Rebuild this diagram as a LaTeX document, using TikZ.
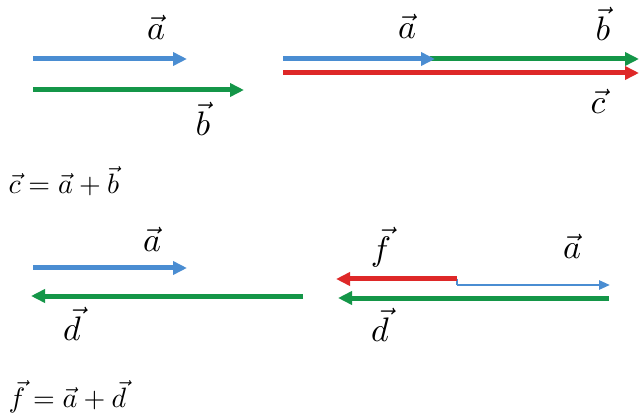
\documentclass[tikz,border=0pt]{standalone}
\usetikzlibrary{arrows.meta}
\definecolor{vblue}{RGB}{74,141,210}
\definecolor{vgreen}{RGB}{20,150,72}
\definecolor{vred}{RGB}{222,40,40}
\tikzset{
  vec/.style={line width=5pt,-{Triangle[length=14pt,width=13pt]}},
  thinvec/.style={line width=2.5pt,-{Triangle[length=11pt,width=9pt]}},
  lbl/.style={inner sep=0pt,scale=3.4},
  formula/.style={inner sep=0pt,anchor=west,scale=2.8}
}
\begin{document}
\begin{tikzpicture}[x=1pt,y=-1pt]
\useasboundingbox[fill=white] (0,0) rectangle (639,419);
% top left
\coordinate (a1s) at (33,59); \coordinate (a1e) at (187,59);
\coordinate (b1s) at (33,90); \coordinate (b1e) at (244,90);
\draw[vec,vblue] (a1s) -- (a1e);
\draw[vec,vgreen] (b1s) -- (b1e);
\node[lbl] (la1) at (156,27) {$\vec{a}$};
\node[lbl] (lb1) at (203,119) {$\vec{b}$};
% top right
\coordinate (a2s) at (283,59); \coordinate (a2e) at (435,59);
\coordinate (b2s) at (430,59); \coordinate (b2e) at (639,59);
\coordinate (c2s) at (283,73); \coordinate (c2e) at (639,73);
\draw[vec,vred] (c2s) -- (c2e);
\draw[vec,vgreen] (b2s) -- (b2e);
\draw[vec,vblue] (a2s) -- (a2e);
\node[lbl] (la2) at (407,26) {$\vec{a}$};
\node[lbl] (lb2) at (603,24) {$\vec{b}$};
\node[lbl] (lc2) at (598,101) {$\vec{c}$};
% formula 1
\node[formula] (f1) at (8,181) {$\vec{c}=\vec{a}+\vec{b}$};
% lower left
\coordinate (a3s) at (33,268); \coordinate (a3e) at (187,268);
\coordinate (d3s) at (303,296); \coordinate (d3e) at (31,296);
\draw[vec,vblue] (a3s) -- (a3e);
\draw[vec,vgreen] (d3s) -- (d3e);
\node[lbl] (la3) at (152,239) {$\vec{a}$};
\node[lbl] (ld3) at (72,324) {$\vec{d}$};
% lower right
\coordinate (ks) at (457,279); \coordinate (kb) at (457,285);
\coordinate (f4e) at (336,279);
\coordinate (a4e) at (610,285);
\coordinate (d4s) at (609,298); \coordinate (d4e) at (338,298);
\draw[vec,vgreen] (d4s) -- (d4e);
\draw[thinvec,vblue] (kb) -- (a4e);
\draw[line width=1.5pt,vblue] (ks) -- (kb);
\draw[vec,vred] (ks) -- (f4e);
\node[lbl] (lf4) at (381,247) {$\vec{f}$};
\node[lbl] (la4) at (572,246) {$\vec{a}$};
\node[lbl] (ld4) at (380,325) {$\vec{d}$};
% formula 2
\node[formula] (f2) at (8,397) {$\vec{f}=\vec{a}+\vec{d}$};
\end{tikzpicture}
\end{document}
